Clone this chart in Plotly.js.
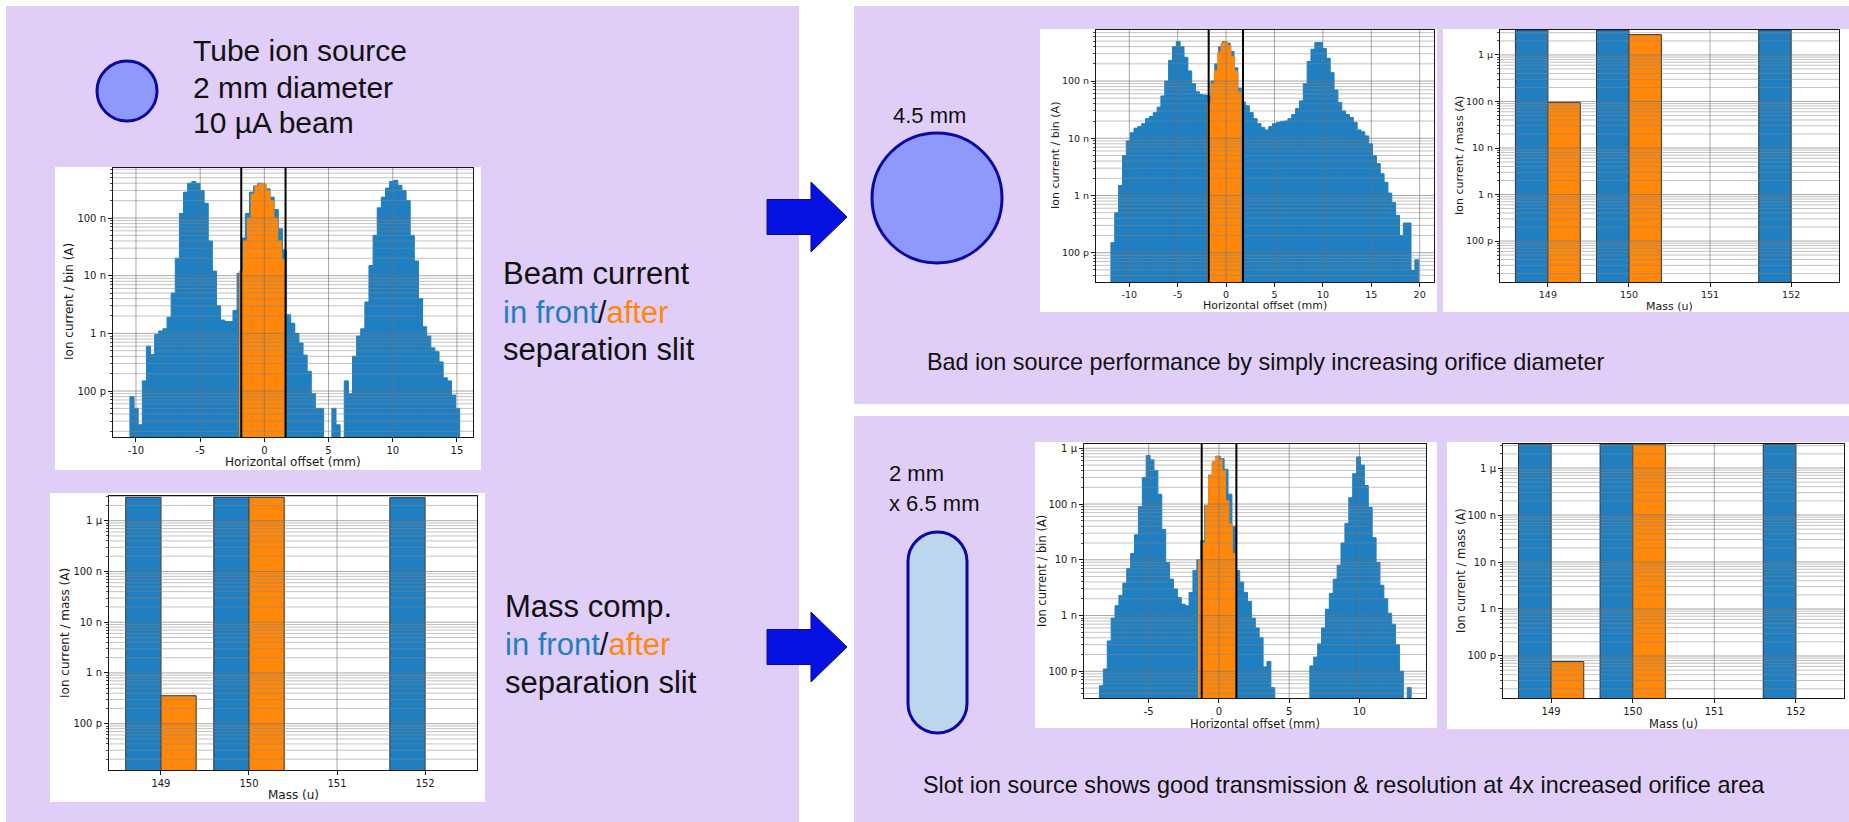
<!DOCTYPE html>
<html>
<head>
<meta charset="utf-8">
<script src="https://cdn.plot.ly/plotly-3.0.1.min.js"></script>
<style>
html,body{margin:0;padding:0;background:#ffffff;}
#chart{width:1849px;height:822px;}
</style>
</head>
<body>
<div id="chart"></div>
<script>
// ================= DATA =================
// Histogram 1 : tube ion source, 2 mm (current per bin, A)
const hist1Start = -10.47;
const hist1BinWidth = 0.321;
const hist1Before = [
  80e-12, 50e-12, 26e-12, 150e-12, 600e-12, 430e-12, 950e-12, 1.1e-9, 1.2e-9, 1.9e-9,
  5e-9, 20e-9, 120e-9, 280e-9, 400e-9, 430e-9, 400e-9, 300e-9, 180e-9, 40e-9,
  12e-9, 3e-9, 1.7e-9, 1.6e-9, 1.6e-9, 2.5e-9, 11e-9, 45e-9, 120e-9, 280e-9,
  360e-9, 400e-9, 390e-9, 320e-9, 230e-9, 140e-9, 65e-9, 28e-9, 2.1e-9, 1.5e-9,
  1.0e-9, 680e-12, 420e-12, 220e-12, 90e-12, 50e-12, 50e-12, null, null, 50e-12,
  26e-12, null, 150e-12, 90e-12, 400e-12, 900e-12, 1.2e-9, 3.5e-9, 15e-9, 50e-9,
  150e-9, 230e-9, 330e-9, 430e-9, 450e-9, 370e-9, 300e-9, 200e-9, 50e-9, 18e-9,
  4e-9, 1.3e-9, 900e-12, 560e-12, 480e-12, 320e-12, 170e-12, 150e-12, 85e-12, 50e-12
];
const hist1AfterStart = -1.93;
const hist1AfterBinWidth = 0.2975;
const hist1After = [12e-9, 40e-9, 100e-9, 260e-9, 355e-9, 390e-9, 380e-9, 300e-9, 200e-9, 100e-9, 40e-9, 19e-9];
const hist1Slit = [-1.8, 1.65];

// Histogram 2 : 4.5 mm orifice
const hist2Start = -11.9;
const hist2BinWidth = 0.3975;
const hist2Before = [
  150e-12, 500e-12, 1.5e-9, 5e-9, 9e-9, 12.5e-9, 15e-9, 16e-9, 18e-9, 22e-9,
  24e-9, 28e-9, 35e-9, 55e-9, 100e-9, 230e-9, 400e-9, 490e-9, 400e-9, 260e-9,
  150e-9, 90e-9, 65e-9, 58e-9, 57e-9, 55e-9, 100e-9, 200e-9, 400e-9, 490e-9,
  460e-9, 330e-9, 170e-9, 75e-9, 43e-9, 37e-9, 28e-9, 22e-9, 18e-9, 15.5e-9,
  14e-9, 16e-9, 18e-9, 19e-9, 19.5e-9, 20e-9, 22e-9, 26e-9, 33e-9, 45e-9,
  90e-9, 220e-9, 360e-9, 470e-9, 470e-9, 370e-9, 250e-9, 140e-9, 70e-9, 42e-9,
  30e-9, 26e-9, 23e-9, 19e-9, 14e-9, 13e-9, 11e-9, 8e-9, 5e-9, 3.6e-9,
  2.4e-9, 1.7e-9, 1.1e-9, 750e-12, 450e-12, 200e-12, 330e-12, 330e-12, 49e-12, 75e-12
];
const hist2AfterStart = -1.9;
const hist2AfterBinWidth = 0.344;
const hist2After = [42e-9, 90e-9, 150e-9, 320e-9, 460e-9, 480e-9, 420e-9, 270e-9, 150e-9, 65e-9];
const hist2Slit = [-1.8, 1.75];

// Histogram 3 : 2 mm x 6.5 mm slot
const hist3Start = -8.51;
const hist3BinWidth = 0.2774;
const hist3Before = [
  55e-12, 110e-12, 350e-12, 900e-12, 1.5e-9, 2.3e-9, 3.8e-9, 7e-9, 13e-9, 28e-9,
  90e-9, 300e-9, 740e-9, 620e-9, 400e-9, 150e-9, 35e-9, 9e-9, 4.5e-9, 3e-9,
  2.1e-9, 1.6e-9, 1.5e-9, 2.6e-9, 6.4e-9, 10e-9, 22e-9, 95e-9, 330e-9, 570e-9,
  720e-9, 650e-9, 420e-9, 150e-9, 40e-9, 6.4e-9, 4e-9, 2.6e-9, 1.8e-9, 900e-12,
  600e-12, 400e-12, 120e-12, 150e-12, 51e-12, null, null, null, null, null,
  null, null, null, null, 125e-12, 180e-12, 310e-12, 600e-12, 1.3e-9, 2.5e-9,
  4.5e-9, 8e-9, 20e-9, 45e-9, 130e-9, 350e-9, 700e-9, 500e-9, 215e-9, 87e-9,
  25e-9, 9e-9, 3.5e-9, 2e-9, 1.1e-9, 700e-12, 300e-12, 100e-12, null, 51e-12
];
const hist3AfterStart = -1.46;
const hist3AfterBinWidth = 0.2409;
const hist3After = [10e-9, 20e-9, 94e-9, 320e-9, 560e-9, 720e-9, 630e-9, 400e-9, 115e-9, 44e-9, 13e-9];
const hist3Slit = [-1.23, 1.24];

// Mass composition (current per mass, A)
const masses = [149, 150, 151, 152];
const mass1Before = [2.9e-6, 2.9e-6, null, 2.84e-6];
const mass1After  = [356e-12, 2.9e-6, null, null];
const mass2Before = [3.42e-6, 3.42e-6, null, 3.42e-6];
const mass2After  = [96e-9, 2.73e-6, null, null];
const mass3Before = [3.22e-6, 3.22e-6, null, 3.22e-6];
const mass3After  = [76e-12, 3.22e-6, null, null];

// Tick labels
const offsetTicksA = [-10, -5, 0, 5, 10, 15];
const offsetTicksB = [-10, -5, 0, 5, 10, 15, 20];
const offsetTicksC = [-5, 0, 5, 10];
const massTicks = [149, 150, 151, 152];
const currentTickVals = [1e-10, 1e-9, 1e-8, 1e-7, 1e-6];
const currentTickText = ['100 p', '1 n', '10 n', '100 n', '1 µ'];

// ================= STYLE / LAYOUT =================
const W = 1849, H = 822;
const BLUE = '#1f7fc0', ORANGE = '#ff880a';
const PURPLE = '#e0cdf8';
const GRID_MAJOR = 'rgba(115,115,115,0.62)', GRID_MINOR = 'rgba(135,135,135,0.5)';
const INK = '#1a1a1a';
function PX(x){ return x / W; }
function PY(y){ return 1 - y / H; }
function aKey(n, l){ return n === 1 ? l + 'axis' : l + 'axis' + n; }
function aRef(n, l){ return n === 1 ? l : l + n; }
function tickLabel(v){ return String(v); }

const minorVals = [];
for (let d = -12; d <= -5; d++) for (let m = 2; m <= 9; m++) minorVals.push(m * Math.pow(10, d));

const charts = [
  {kind:'hist', box:[55,167,481,470], plot:[113,168,473,437], xr:[-11.79,16.25], yr:[-10.797,-6.133],
   xt:offsetTicksA, tick:10, tsize:12, ytitle:'Ion current / bin (A)', xtitle:'Horizontal offset (mm)',
   yt:[69,302], xtp:[293,462],
   before:hist1Before, bStart:hist1Start, bW:hist1BinWidth, after:hist1After, aStart:hist1AfterStart, aW:hist1AfterBinWidth, slit:hist1Slit},
  {kind:'mass', box:[50,493,485,802], plot:[109,496,477,770], xr:[148.41,152.59], yr:[-10.912,-5.513],
   xt:massTicks, tick:10, tsize:12, ytitle:'Ion current / mass (A)', xtitle:'Mass (u)',
   yt:[65,633], xtp:[293,795], before:mass1Before, after:mass1After},
  {kind:'hist', box:[1040,29,1437,312], plot:[1096,30,1434,282], xr:[-13.44,21.48], yr:[-10.512,-6.108],
   xt:offsetTicksB, tick:9.5, tsize:11, ytitle:'Ion current / bin (A)', xtitle:'Horizontal offset (mm)',
   yt:[1055,156], xtp:[1265,305],
   before:hist2Before, bStart:hist2Start, bW:hist2BinWidth, after:hist2After, aStart:hist2AfterStart, aW:hist2AfterBinWidth, slit:hist2Slit},
  {kind:'mass', box:[1443,29,1849,312], plot:[1500,30,1839,282], xr:[148.41,152.59], yr:[-10.88,-5.464],
   xt:massTicks, tick:9.5, tsize:11, ytitle:'Ion current / mass (A)', xtitle:'Mass (u)',
   yt:[1459,156], xtp:[1669,306], before:mass2Before, after:mass2After},
  {kind:'hist', box:[1035,442,1437,728], plot:[1084,444,1426,698], xr:[-9.61,14.74], yr:[-10.479,-5.923],
   xt:offsetTicksC, tick:10, tsize:11.5, ytitle:'Ion current / bin (A)', xtitle:'Horizontal offset (mm)',
   yt:[1042,571], xtp:[1255,724],
   before:hist3Before, bStart:hist3Start, bW:hist3BinWidth, after:hist3After, aStart:hist3AfterStart, aW:hist3AfterBinWidth, slit:hist3Slit},
  {kind:'mass', box:[1447,442,1849,729], plot:[1503,444,1844,698], xr:[148.41,152.59], yr:[-10.894,-5.489],
   xt:massTicks, tick:10, tsize:11.5, ytitle:'Ion current / mass (A)', xtitle:'Mass (u)',
   yt:[1461,571], xtp:[1673,724], before:mass3Before, after:mass3After}
];

const layout = {
  width: W, height: H,
  margin: {l:0, r:0, t:0, b:0},
  paper_bgcolor: '#ffffff',
  plot_bgcolor: 'rgba(0,0,0,0)',
  showlegend: false,
  barmode: 'overlay',
  font: {family: 'DejaVu Sans', color: INK},
  shapes: [],
  annotations: []
};
const traces = [];
const aboveShapes = [];

// background panels
function rectPx(x0, y0, x1, y1, fill){
  return {type:'rect', xref:'paper', yref:'paper', x0:PX(x0), x1:PX(x1), y0:PY(y1), y1:PY(y0),
          fillcolor:fill, line:{width:0}, layer:'below'};
}
layout.shapes.push(rectPx(6, 6, 799, 822, PURPLE));
layout.shapes.push(rectPx(854, 6, 1849, 404, PURPLE));
layout.shapes.push(rectPx(854, 416, 1849, 822, PURPLE));

charts.forEach((c, idx) => {
  const n = idx + 1;
  const xr = aRef(n, 'x'), yr = aRef(n, 'y');
  layout.shapes.push(rectPx(c.box[0], c.box[1], c.box[2], c.box[3], '#ffffff'));

  const xdom = [PX(c.plot[0]), PX(c.plot[2])];
  const ydom = [PY(c.plot[3]), PY(c.plot[1])];
  layout[aKey(n, 'x')] = {
    domain: xdom, range: c.xr, anchor: yr, type: 'linear',
    tickmode: 'array', tickvals: c.xt, ticktext: c.xt.map(tickLabel),
    ticks: 'outside', ticklen: 4, tickwidth: 1, tickcolor: INK,
    showgrid: false, zeroline: false,
    showline: true, mirror: true, linecolor: INK, linewidth: 1,
    tickfont: {family: 'DejaVu Sans', size: c.tick, color: INK},
    fixedrange: true
  };
  layout[aKey(n, 'y')] = {
    domain: ydom, range: c.yr, anchor: xr, type: 'log',
    tickmode: 'array', tickvals: currentTickVals, ticktext: currentTickText,
    ticks: 'outside', ticklen: 4, tickwidth: 1, tickcolor: INK,
    minor: {tickmode: 'array', tickvals: minorVals, ticks: 'outside', ticklen: 2, tickwidth: 0.8, tickcolor: INK, showgrid: false},
    showgrid: false, zeroline: false,
    showline: true, mirror: true, linecolor: INK, linewidth: 1,
    tickfont: {family: 'DejaVu Sans', size: c.tick, color: INK},
    fixedrange: true
  };

  // grid lines drawn above the bars (matplotlib style)
  const lo = c.yr[0], hi = c.yr[1];
  minorVals.forEach(v => {
    const lv = Math.log10(v);
    if (lv > lo && lv < hi) aboveShapes.push({type:'line', xref: xr + ' domain', yref: yr + ' domain',
      x0:0, x1:1, y0:(lv - lo)/(hi - lo), y1:(lv - lo)/(hi - lo), line:{color:GRID_MINOR, width:1}, layer:'above'});
  });
  currentTickVals.forEach(v => {
    const lv = Math.log10(v);
    if (lv > lo && lv < hi) aboveShapes.push({type:'line', xref: xr + ' domain', yref: yr + ' domain',
      x0:0, x1:1, y0:(lv - lo)/(hi - lo), y1:(lv - lo)/(hi - lo), line:{color:GRID_MAJOR, width:1}, layer:'above'});
  });
  c.xt.forEach(v => {
    if (v > c.xr[0] && v < c.xr[1]) aboveShapes.push({type:'line', xref: xr, yref: yr + ' domain',
      x0:v, x1:v, y0:0, y1:1, line:{color:GRID_MAJOR, width:1}, layer:'above'});
  });

  if (c.kind === 'hist') {
    traces.push({type:'bar', xaxis:xr, yaxis:yr,
      x: c.before.map((v, i) => c.bStart + c.bW * (i + 0.5)), y: c.before, width: c.bW,
      marker:{color:BLUE, line:{color:BLUE, width:1}}, hoverinfo:'skip'});
    traces.push({type:'bar', xaxis:xr, yaxis:yr,
      x: c.after.map((v, i) => c.aStart + c.aW * (i + 0.5)), y: c.after, width: c.aW,
      marker:{color:ORANGE, line:{color:ORANGE, width:1}}, hoverinfo:'skip'});
  } else {
    traces.push({type:'bar', xaxis:xr, yaxis:yr, x: masses, y: c.before, width: 0.4, offset: -0.4,
      marker:{color:BLUE, line:{color:'#333333', width:1}}, hoverinfo:'skip'});
    traces.push({type:'bar', xaxis:xr, yaxis:yr, x: masses, y: c.after, width: 0.4, offset: 0,
      marker:{color:ORANGE, line:{color:'#333333', width:1}}, hoverinfo:'skip'});
  }

  // axis titles
  layout.annotations.push({xref:'paper', yref:'paper', x:PX(c.yt[0]), y:PY(c.yt[1]), text:c.ytitle,
    textangle:-90, showarrow:false, xanchor:'center', yanchor:'middle',
    font:{family:'DejaVu Sans', size:c.tsize, color:INK}});
  layout.annotations.push({xref:'paper', yref:'paper', x:PX(c.xtp[0]), y:PY(c.xtp[1]), text:c.xtitle,
    showarrow:false, xanchor:'center', yanchor:'middle',
    font:{family:'DejaVu Sans', size:c.tsize, color:INK}});
});

// slit edges (black vertical lines)
charts.forEach((c, idx) => {
  if (c.kind !== 'hist') return;
  const n = idx + 1;
  c.slit.forEach(s => aboveShapes.push({type:'line', xref:aRef(n,'x'), yref:aRef(n,'y') + ' domain',
    x0:s, x1:s, y0:0, y1:1, line:{color:'#000000', width:2}, layer:'above'}));
});

// decorative source shapes and arrows
const SRC_LINE = '#0a0aa0';
function circlePx(cx, cy, r, fill){
  return {type:'circle', xref:'paper', yref:'paper', x0:PX(cx - r), x1:PX(cx + r), y0:PY(cy + r), y1:PY(cy - r),
          fillcolor:fill, line:{color:SRC_LINE, width:3}, layer:'below'};
}
layout.shapes.push(circlePx(127, 91, 30, '#8f99fb'));
layout.shapes.push(circlePx(937, 198, 65, '#8f99fb'));

function pt(x, y){ return PX(x).toFixed(6) + ',' + PY(y).toFixed(6); }
// rounded slot
(function(){
  const x0 = 908, x1 = 967, y0 = 532, y1 = 733, r = (x1 - x0) / 2, cx = (x0 + x1) / 2, k = 0.5523 * r;
  const p = 'M' + pt(x0, y0 + r) +
    ' C' + pt(x0, y0 + r - k) + ' ' + pt(cx - k, y0) + ' ' + pt(cx, y0) +
    ' C' + pt(cx + k, y0) + ' ' + pt(x1, y0 + r - k) + ' ' + pt(x1, y0 + r) +
    ' L' + pt(x1, y1 - r) +
    ' C' + pt(x1, y1 - r + k) + ' ' + pt(cx + k, y1) + ' ' + pt(cx, y1) +
    ' C' + pt(cx - k, y1) + ' ' + pt(x0, y1 - r + k) + ' ' + pt(x0, y1 - r) + ' Z';
  layout.shapes.push({type:'path', xref:'paper', yref:'paper', path:p, fillcolor:'#bed5ee',
    line:{color:SRC_LINE, width:3}, layer:'below'});
})();

function arrowPx(xl, xh, xt, cy, bh, hh){
  const p = 'M' + pt(xl, cy - bh) + ' L' + pt(xh, cy - bh) + ' L' + pt(xh, cy - hh) + ' L' + pt(xt, cy) +
    ' L' + pt(xh, cy + hh) + ' L' + pt(xh, cy + bh) + ' L' + pt(xl, cy + bh) + ' Z';
  return {type:'path', xref:'paper', yref:'paper', path:p, fillcolor:'#0512e2',
    line:{color:'#0a0a9a', width:1}, layer:'below'};
}
layout.shapes.push(arrowPx(767, 811, 847, 217, 17.5, 35));
layout.shapes.push(arrowPx(767, 811, 847, 647, 17.5, 35));

layout.shapes = layout.shapes.concat(aboveShapes);

// slide texts
const TXT = '#111111';
function txt(x, y, s, size, fam){
  layout.annotations.push({xref:'paper', yref:'paper', x:PX(x), y:PY(y), text:s, showarrow:false,
    xanchor:'left', yanchor:'middle', font:{family: fam || 'Liberation Sans, Arial, sans-serif', size:size, color:TXT}});
}
const frontAfter = '<span style="color:' + BLUE + '">in front</span>/<span style="color:' + ORANGE + '">after</span>';
txt(191, 50, 'Tube ion source', 30);
txt(191, 88, '2 mm diameter', 30);
txt(191, 123, '10 µA beam', 30);
txt(501, 274, 'Beam current', 31);
txt(501, 312, frontAfter, 31);
txt(501, 349, 'separation slit', 31);
txt(503, 606, 'Mass comp.', 31);
txt(503, 644, frontAfter, 31);
txt(503, 682, 'separation slit', 31);
txt(891, 115, '4.5 mm', 22);
txt(887, 474, '2 mm', 22);
txt(887, 503, 'x 6.5 mm', 22);
txt(925, 362, 'Bad ion source performance by simply increasing orifice diameter', 23.4);
txt(921, 785, 'Slot ion source shows good transmission &amp; resolution at 4x increased orifice area', 23.4);

Plotly.newPlot('chart', traces, layout, {staticPlot:true, displayModeBar:false});
</script>
</body>
</html>
